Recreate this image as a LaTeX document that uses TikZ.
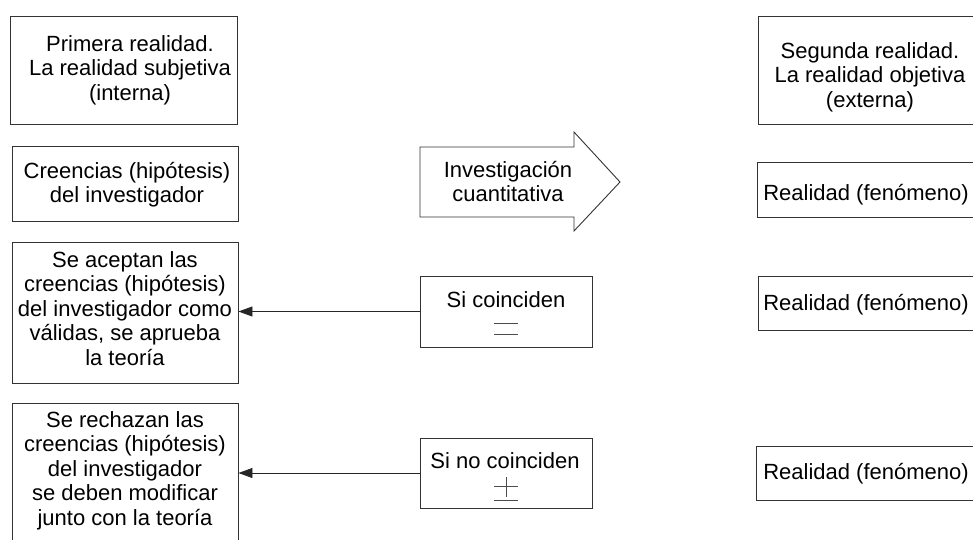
\documentclass[tikz,border=0pt]{standalone}
\usepackage{fontspec}
\setmainfont{Liberation Sans}
\usetikzlibrary{arrows.meta}
\begin{document}
\begin{tikzpicture}[x=1pt,y=-1pt,
  box/.style={draw=black!80, line width=0.9pt, inner sep=0pt, rectangle},
  txt/.style={font=\fontsize{22}{24.5}\selectfont, align=center, anchor=north, inner sep=0pt},
  sym/.style={draw=black!70, line width=0.8pt},
  conn/.style={draw=black!85, line width=0.9pt, -{Triangle[length=14pt,width=10pt]}}]
\useasboundingbox (0,0) rectangle (973,539);
\clip (0,0) rectangle (973,539);
% left column
\node[box, minimum width=227pt, minimum height=108pt] (l1) at (123.5,70) {};
\node[box, minimum width=226pt, minimum height=75pt] (l2) at (125,183.5) {};
\node[box, minimum width=226pt, minimum height=141pt] (l3) at (125,312.5) {};
\node[box, minimum width=226pt, minimum height=157pt] (l4) at (125,481.5) {};
\node[txt] (t1) at (130,34) {\strut Primera realidad.\\La realidad subjetiva\\(interna)};
\node[txt] (t2) at (127,161) {\strut Creencias (hipótesis)\\del investigador};
\node[txt] (t3) at (125,250) {\strut Se aceptan las\\creencias (hipótesis)\\del investigador como\\válidas, se aprueba\\la teoría};
\node[txt] (t4) at (125,410) {\strut Se rechazan las\\creencias (hipótesis)\\del investigador\\se deben modificar\\junto con la teoría};
% middle
\draw[box] (420,147) -- (574,147) -- (574,132) -- (620,182) -- (574,231) -- (574,217) -- (420,217) -- cycle;
\node[txt] (tinv) at (508,160) {\strut Investigación\\cuantitativa};
\node[box, minimum width=172pt, minimum height=71pt] (si) at (506,311.5) {};
\node[box, minimum width=172pt, minimum height=70pt] (sino) at (506,473) {};
\node[txt] (tsi) at (506,290) {\strut Si coinciden};
\node[txt] (tsino) at (505,451) {\strut Si no coinciden};
\draw[sym] (494,323) -- (518,323);
\draw[sym] (494,334) -- (518,334);
\draw[sym] (494,486) -- (518,486);
\draw[sym] (506,477) -- (506,497);
\draw[sym] (494,500) -- (518,500);
% right column
\node[box, minimum width=224pt, minimum height=108pt] (r1) at (870,70) {};
\node[box, minimum width=219pt, minimum height=55pt] (r2) at (866.5,189.5) {};
\node[box, minimum width=218pt, minimum height=54pt] (r3) at (867,303) {};
\node[box, minimum width=220pt, minimum height=54pt] (r4) at (866,473) {};
\node[txt] (tr1) at (870,41) {\strut Segunda realidad.\\La realidad objetiva\\(externa)};
\node[txt] (tr2) at (866,183) {\strut Realidad (fenómeno)};
\node[txt] (tr3) at (866,293) {\strut Realidad (fenómeno)};
\node[txt] (tr4) at (866,462) {\strut Realidad (fenómeno)};
% connectors
\draw[conn] (si.west) -- (si.west -| l3.east);
\draw[conn] (sino.west) -- (sino.west -| l4.east);
\end{tikzpicture}
\end{document}
